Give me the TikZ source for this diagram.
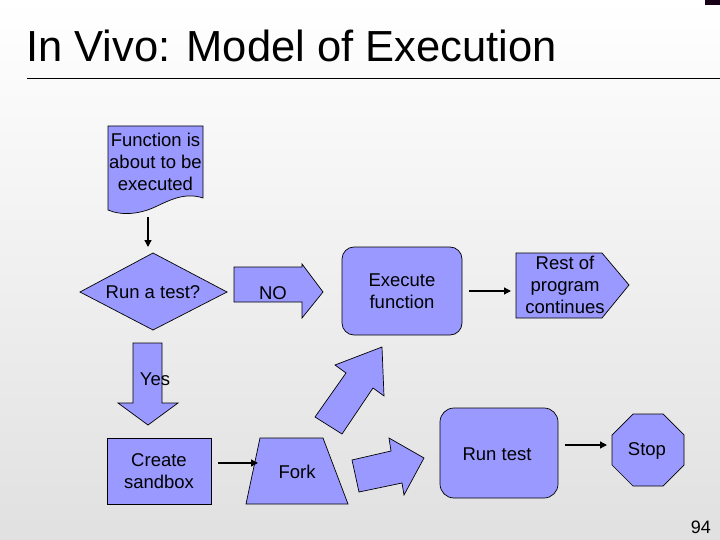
\documentclass[tikz,border=0pt]{standalone}
\usepackage{fontspec}
\setmainfont{Liberation Sans}
\usetikzlibrary{shapes.geometric,arrows.meta}
\definecolor{boxfill}{HTML}{9999FF}
\tikzset{
  shp/.style={draw=black,fill=boxfill,line width=0.7pt,line join=miter},
  lbl/.style={align=center,font=\fontsize{18.5}{22}\selectfont,inner sep=0pt},
  conn/.style={-{Triangle[length=7pt,width=7pt]},line width=1.3pt},
}
\begin{document}
\begin{tikzpicture}[x=1pt,y=-1pt]
\shade[top color=white,bottom color=black!12] (0,0) rectangle (720,540);
\useasboundingbox (0,0) rectangle (720,540);
\fill[black!80!violet] (705,0) rectangle (720,5);
\node[anchor=base west,inner sep=0pt,font=\fontsize{43.5}{48}\selectfont] (title) at (26,62) {In Vivo: Model of Execution};
\draw[line width=0.8pt] (27,78) -- (720,78);
% document shape
\draw[shp] (108,126) -- (203,126) -- (203,198) .. controls (185,192) and (170,200) .. (155,207) .. controls (140,214) and (122,216) .. (108,210) -- cycle;
\node[lbl] (doc) at (155.5,162) {Function is\\about to be\\executed};
\coordinate (docb) at (148,217);
% diamond
\draw[shp] (80,292) -- (153,253) -- (227,292) -- (153,330) -- cycle;
\node[lbl] (dia) at (153,292) {Run a test?};
\coordinate (diat) at (148,247);
\draw[conn] (docb) -- (diat);
% NO arrow
\draw[shp] (234,267) -- (302,267) -- (302,264) -- (323,292) -- (302,318) -- (302,302) -- (234,302) -- cycle;
\node[lbl] (no) at (273,293) {NO};
% Execute function
\draw[shp,rounded corners=12pt] (342,247) rectangle (462,335);
\node[lbl] (exec) at (402,291) {Execute\\function};
% rest of program
\draw[shp] (516,253) -- (602,253) -- (629,285) -- (602,318) -- (516,318) -- cycle;
\node[lbl] (rest) at (565,285) {Rest of\\program\\continues};
\coordinate (ea) at (469,291); \coordinate (eb) at (511,291);
\draw[conn] (ea) -- (eb);
% Yes arrow
\draw[shp] (133,343) -- (162,343) -- (162,403) -- (178,403) -- (148,425) -- (118,403) -- (133,403) -- cycle;
\node[lbl] (yes) at (155,379) {Yes};
% Create sandbox
\draw[shp] (107,438) rectangle (211,504);
\node[lbl] (sand) at (159,471) {Create\\sandbox};
% Fork
\draw[shp] (246,504) -- (260,438) -- (323,438) -- (348,504) -- cycle;
\node[lbl] (fork) at (297,472) {Fork};
\coordinate (sa) at (218,463); \coordinate (sb) at (258,463);
\draw[conn] (sa) -- (sb);
% up-right arrow
\draw[shp] (315,417) -- (346,373) -- (335,365) -- (382,347) -- (384,396) -- (373,388) -- (342,434) -- cycle;
% right arrow
\draw[shp] (352,460) -- (391,451) -- (389,438) -- (424,458) -- (404,495) -- (402,483) -- (359,492) -- cycle;
% Run test
\draw[shp,rounded corners=14pt] (440,408) rectangle (558,498);
\node[lbl] (run) at (497,454) {Run test};
% Stop
\draw[shp] (633,414) -- (663,414) -- (684,435) -- (684,465) -- (663,486) -- (633,486) -- (612,465) -- (612,435) -- cycle;
\node[lbl] (stop) at (647,451) {Stop};
\coordinate (ra) at (565,445); \coordinate (rb) at (607,445);
\draw[conn] (ra) -- (rb);
\node[anchor=base east,inner sep=0pt,font=\fontsize{18}{20}\selectfont] (page) at (711,533) {94};
\end{tikzpicture}
\end{document}
